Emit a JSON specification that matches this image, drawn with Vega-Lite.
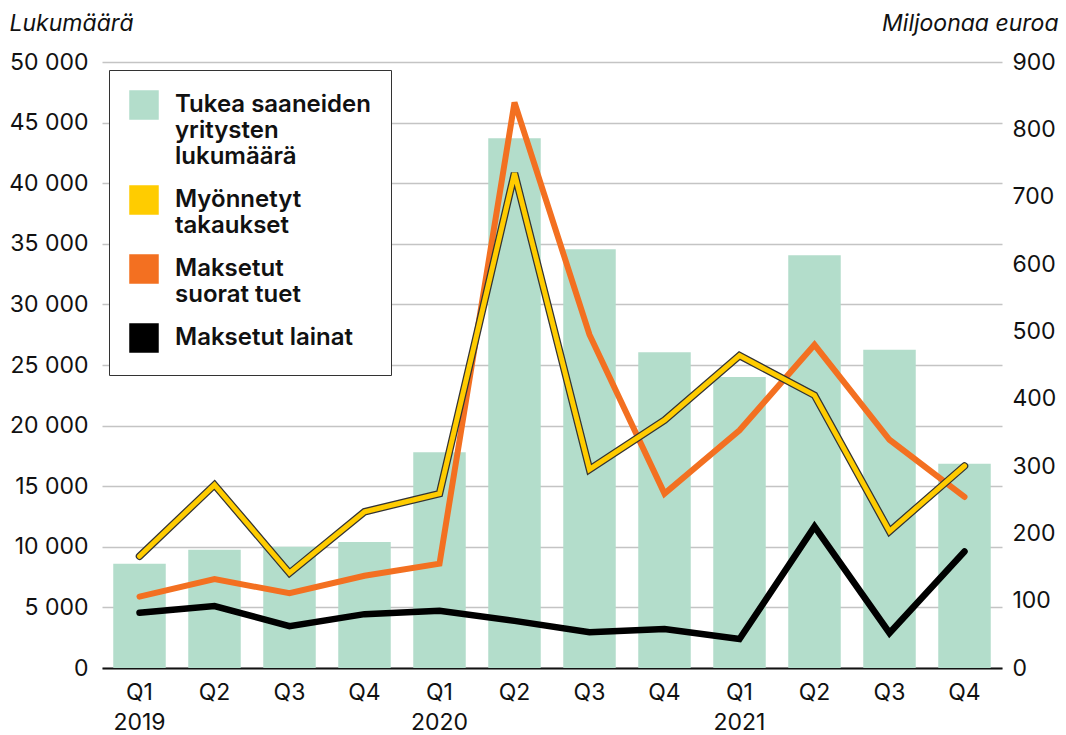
{
  "$schema": "https://vega.github.io/schema/vega-lite/v6.json",
  "autosize": "none",
  "width": 900,
  "height": 606,
  "padding": {"left": 102, "top": 62, "right": 64, "bottom": 67},
  "background": "white",
  "config": {
    "view": {"stroke": null},
    "font": "Inter",
    "axis": {"labelFont": "Inter", "labelFontSize": 23, "labelColor": "#111", "titleFont": "Inter", "titleFontSize": 23, "titleFontWeight": "normal", "titleFontStyle": "italic", "titleColor": "#111"}
  },
  "datasets": {
    "bars": [
      {"period": "2019 Q1", "series": "Tukea saaneiden|yritysten|lukumäärä", "count": 8600},
      {"period": "2019 Q2", "series": "Tukea saaneiden|yritysten|lukumäärä", "count": 9750},
      {"period": "2019 Q3", "series": "Tukea saaneiden|yritysten|lukumäärä", "count": 10000},
      {"period": "2019 Q4", "series": "Tukea saaneiden|yritysten|lukumäärä", "count": 10400},
      {"period": "2020 Q1", "series": "Tukea saaneiden|yritysten|lukumäärä", "count": 17800},
      {"period": "2020 Q2", "series": "Tukea saaneiden|yritysten|lukumäärä", "count": 43700},
      {"period": "2020 Q3", "series": "Tukea saaneiden|yritysten|lukumäärä", "count": 34550},
      {"period": "2020 Q4", "series": "Tukea saaneiden|yritysten|lukumäärä", "count": 26050},
      {"period": "2021 Q1", "series": "Tukea saaneiden|yritysten|lukumäärä", "count": 24000},
      {"period": "2021 Q2", "series": "Tukea saaneiden|yritysten|lukumäärä", "count": 34050},
      {"period": "2021 Q3", "series": "Tukea saaneiden|yritysten|lukumäärä", "count": 26250},
      {"period": "2021 Q4", "series": "Tukea saaneiden|yritysten|lukumäärä", "count": 16850}
    ],
    "lines": [
      {"period": "2019 Q1", "series": "Myönnetyt|takaukset", "value": 166},
      {"period": "2019 Q2", "series": "Myönnetyt|takaukset", "value": 272},
      {"period": "2019 Q3", "series": "Myönnetyt|takaukset", "value": 141},
      {"period": "2019 Q4", "series": "Myönnetyt|takaukset", "value": 232},
      {"period": "2020 Q1", "series": "Myönnetyt|takaukset", "value": 259},
      {"period": "2020 Q2", "series": "Myönnetyt|takaukset", "value": 735},
      {"period": "2020 Q3", "series": "Myönnetyt|takaukset", "value": 295},
      {"period": "2020 Q4", "series": "Myönnetyt|takaukset", "value": 368},
      {"period": "2021 Q1", "series": "Myönnetyt|takaukset", "value": 464},
      {"period": "2021 Q2", "series": "Myönnetyt|takaukset", "value": 405},
      {"period": "2021 Q3", "series": "Myönnetyt|takaukset", "value": 203},
      {"period": "2021 Q4", "series": "Myönnetyt|takaukset", "value": 300},
      {"period": "2019 Q1", "series": "Maksetut|suorat tuet", "value": 106},
      {"period": "2019 Q2", "series": "Maksetut|suorat tuet", "value": 132},
      {"period": "2019 Q3", "series": "Maksetut|suorat tuet", "value": 111},
      {"period": "2019 Q4", "series": "Maksetut|suorat tuet", "value": 137},
      {"period": "2020 Q1", "series": "Maksetut|suorat tuet", "value": 155},
      {"period": "2020 Q2", "series": "Maksetut|suorat tuet", "value": 840},
      {"period": "2020 Q3", "series": "Maksetut|suorat tuet", "value": 495},
      {"period": "2020 Q4", "series": "Maksetut|suorat tuet", "value": 259},
      {"period": "2021 Q1", "series": "Maksetut|suorat tuet", "value": 353},
      {"period": "2021 Q2", "series": "Maksetut|suorat tuet", "value": 480},
      {"period": "2021 Q3", "series": "Maksetut|suorat tuet", "value": 339},
      {"period": "2021 Q4", "series": "Maksetut|suorat tuet", "value": 254},
      {"period": "2019 Q1", "series": "Maksetut lainat", "value": 82},
      {"period": "2019 Q2", "series": "Maksetut lainat", "value": 92},
      {"period": "2019 Q3", "series": "Maksetut lainat", "value": 62},
      {"period": "2019 Q4", "series": "Maksetut lainat", "value": 80},
      {"period": "2020 Q1", "series": "Maksetut lainat", "value": 85},
      {"period": "2020 Q2", "series": "Maksetut lainat", "value": 70},
      {"period": "2020 Q3", "series": "Maksetut lainat", "value": 53},
      {"period": "2020 Q4", "series": "Maksetut lainat", "value": 58},
      {"period": "2021 Q1", "series": "Maksetut lainat", "value": 43},
      {"period": "2021 Q2", "series": "Maksetut lainat", "value": 210},
      {"period": "2021 Q3", "series": "Maksetut lainat", "value": 52},
      {"period": "2021 Q4", "series": "Maksetut lainat", "value": 173}
    ]
  },
  "encoding": {
    "x": {
      "field": "period", "type": "nominal", "sort": null,
      "scale": {"paddingInner": 0.3, "paddingOuter": 0.15},
      "axis": {
        "title": null, "labelAngle": 0, "ticks": false, "labelPadding": 13,
        "domainColor": "#111", "domainWidth": 2, "labelLineHeight": 30,
        "labelExpr": "slice(datum.label, 5) == 'Q1' ? [slice(datum.label, 5), slice(datum.label, 0, 4)] : slice(datum.label, 5)"
      }
    }
  },
  "layer": [
    {
      "data": {"name": "bars"},
      "mark": {"type": "bar"},
      "encoding": {
        "y": {
          "field": "count", "type": "quantitative",
          "scale": {"domain": [0, 50000], "nice": false},
          "axis": {
            "title": "Lukumäärä", "titleAngle": 0, "titleAlign": "left", "titleBaseline": "alphabetic",
            "titleX": -93, "titleY": -32,
            "values": [0, 5000, 10000, 15000, 20000, 25000, 30000, 35000, 40000, 45000, 50000],
            "labelExpr": "replace(format(datum.value, ','), ',', ' ')",
            "ticks": false, "domain": false, "labelPadding": 14,
            "grid": true, "gridColor": "#c4c4c4", "gridWidth": 1.5
          }
        },
        "color": {
          "field": "series", "type": "nominal",
          "scale": {
            "domain": ["Tukea saaneiden|yritysten|lukumäärä", "Myönnetyt|takaukset", "Maksetut|suorat tuet", "Maksetut lainat"],
            "range": ["#b3ddcb", "#ffcc00", "#f37021", "#000000"]
          },
          "legend": {
            "title": null, "orient": "none", "legendX": 7, "legendY": 8,
            "labelExpr": "split(datum.label, '|')",
            "labelFont": "Inter", "labelFontSize": 24, "labelFontWeight": 600, "labelColor": "#111",
            "labelLimit": 300, "labelOffset": 16, "rowPadding": 14,
            "padding": 20, "strokeColor": "#333", "fillColor": "white",
            "symbolType": "square", "symbolSize": 784
          }
        }
      }
    },
    {
      "data": {"name": "lines"},
      "encoding": {
        "y": {
          "field": "value", "type": "quantitative",
          "scale": {"domain": [0, 900], "nice": false},
          "axis": {
            "title": "Miljoonaa euroa", "titleAngle": 0, "titleAlign": "right", "titleBaseline": "alphabetic",
            "titleX": 56, "titleY": -32,
            "values": [0, 100, 200, 300, 400, 500, 600, 700, 800, 900],
            "ticks": false, "domain": false, "labelPadding": 10, "grid": false
          }
        }
      },
      "layer": [
        {
          "transform": [{"filter": "datum.series == 'Maksetut|suorat tuet'"}],
          "mark": {"type": "line", "strokeWidth": 6, "strokeCap": "round", "strokeJoin": "miter"},
          "encoding": {"color": {"field": "series", "type": "nominal"}}
        },
        {
          "transform": [{"filter": "datum.series == 'Maksetut lainat'"}],
          "mark": {"type": "line", "strokeWidth": 6.5, "strokeCap": "round", "strokeJoin": "miter"},
          "encoding": {"color": {"field": "series", "type": "nominal"}}
        },
        {
          "transform": [{"filter": "datum.series == 'Myönnetyt|takaukset'"}],
          "mark": {"type": "line", "strokeWidth": 7.5, "color": "#333333", "strokeCap": "round", "strokeJoin": "miter"},
          "encoding": {}
        },
        {
          "transform": [{"filter": "datum.series == 'Myönnetyt|takaukset'"}],
          "mark": {"type": "line", "strokeWidth": 5, "strokeCap": "round", "strokeJoin": "miter"},
          "encoding": {"color": {"field": "series", "type": "nominal"}}
        }
      ]
    }
  ],
  "resolve": {"scale": {"y": "independent"}}
}
